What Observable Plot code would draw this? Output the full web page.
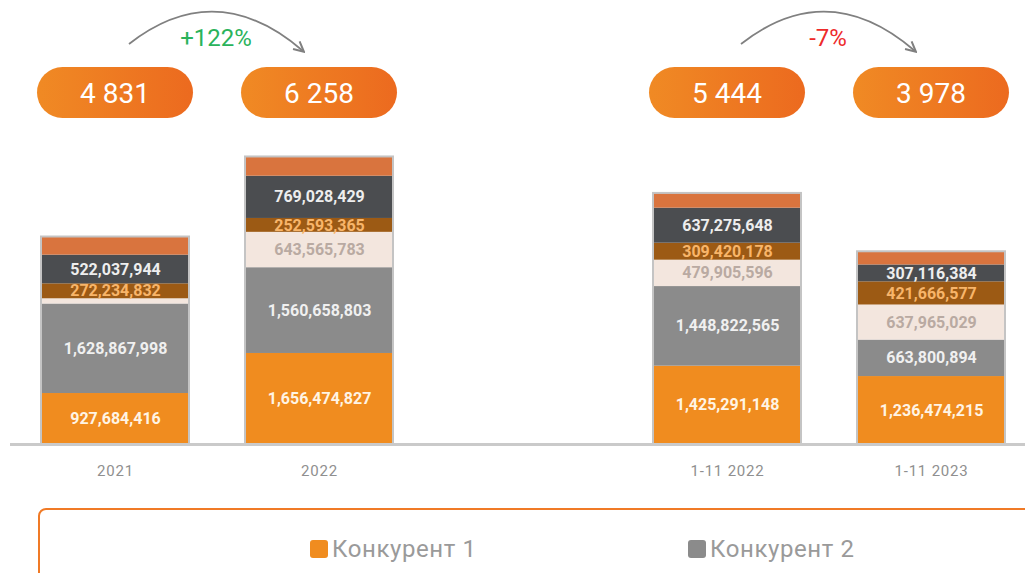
<!DOCTYPE html>
<html><head><meta charset="utf-8">
<script src="https://cdn.jsdelivr.net/npm/d3@7"></script>
<script src="https://cdn.jsdelivr.net/npm/@observablehq/plot@0.6"></script>
<style>
body{margin:0;background:#fff;font-family:Roboto,sans-serif;}
#wrap{position:relative;width:1025px;height:573px;overflow:hidden;}
#wrap svg{overflow:visible;}
.legend{position:absolute;left:38px;top:508px;width:1010px;height:90px;border:2px solid #f07a26;border-radius:8px;box-sizing:border-box;}
.item{position:absolute;top:25px;display:flex;align-items:center;font-size:24px;color:#9a9a9a;letter-spacing:0.6px;}
.sw{width:18px;height:18px;border-radius:3px;margin-right:4px;}
g[aria-label="seglabels"] text{letter-spacing:2px;}
g[aria-label="x-axis tick label"] text, g[aria-label="x-axis"] text{letter-spacing:0.8px;}
</style></head><body><div id="wrap"></div>
<script>
const categories = ["2021", "2022", "gap", "1-11 2022", "1-11 2023"];
const tickLabels = ["2021", "2022", "", "1-11 2022", "1-11 2023"];
const seriesNames = ["Конкурент 1", "Конкурент 2", "Конкурент 3", "Конкурент 4", "Конкурент 5", "Конкурент 6"];
const seriesColors = ["#f08c1f", "#8b8b8b", "#f3e6de", "#9c5a14", "#4b4d50", "#d9743e"];
const labelColors = ["#fff4e4", "#f0f0f0", "#b9aaa2", "#f8b56a", "#eeeeee", null];
const konk1 = [927684416, 1656474827, null, 1425291148, 1236474215];
const konk2 = [1628867998, 1560658803, null, 1448822565, 663800894];
const konk3 = [95000000, 643565783, null, 479905596, 637965029];
const konk4 = [272234832, 252593365, null, 309420178, 421666577];
const konk5 = [522037944, 769028429, null, 637275648, 307116384];
const konk6 = [330000000, 350000000, null, 268000000, 240000000];
const badgeValues = ["4 831", "6 258", "", "5 444", "3 978"];
const changes = [
  {from: "2021", to: "2022", text: "+122%", color: "#2ab35b"},
  {from: "1-11 2022", to: "1-11 2023", text: "-7%", color: "#ee2a2a"}
];

const seriesValues = [konk1, konk2, konk3, konk4, konk5, konk6];
const rows = [];
categories.forEach((cat, ci) => {
  let acc = 0;
  seriesValues.forEach((vals, si) => {
    const v = vals[ci];
    if (v == null) return;
    rows.push({cat, series: seriesNames[si], si, value: v, y1: acc, y2: acc + v,
      label: d3.format(",")(v)});
    acc += v;
  });
});
const totals = categories.map((cat, ci) => ({cat, total: d3.sum(seriesValues, s => s[ci] || 0)})).filter(d => d.total > 0);

const labelMarks = seriesNames.map((name, si) => labelColors[si] ? Plot.text(
  rows.filter(r => r.si === si && r.value > 150e6),
  {x: "cat", y: r => (r.y1 + r.y2) / 2, text: "label", fill: labelColors[si],
   fontSize: 16, fontWeight: "bold", ariaLabel: "seglabels"}) : null).filter(Boolean);

const plot = Plot.plot({
  width: 1025, height: 500,
  marginTop: 150, marginBottom: 56, marginLeft: 10, marginRight: 0,
  style: {fontFamily: "Roboto, sans-serif", fontSize: "15px", color: "#8f8f8f", background: "transparent"},
  x: {domain: categories, range: [40, 1005], paddingInner: 0.275, paddingOuter: 0,
      tickFormat: d => tickLabels[categories.indexOf(d)], tickSize: 0, tickPadding: 21, label: null},
  y: {domain: [0, 5.35e9], axis: null},
  color: {domain: seriesNames, range: seriesColors},
  marks: [
    Plot.barY(rows, {x: "cat", y1: "y1", y2: "y2", fill: "series"}),
    Plot.barY(totals, {x: "cat", y: "total", fill: "none", stroke: "#c4c4c4", strokeWidth: 2}),
    ...labelMarks,
    Plot.ruleY([0], {stroke: "#cacaca", strokeWidth: 3})
  ]
});

document.getElementById("wrap").appendChild(plot);

// annotations positioned with the plot's x scale
const xs = plot.scale("x");
const bw = xs.bandwidth;
const cx = c => xs.apply(c) + bw / 2;
const svg = d3.select(plot);
const defs = svg.append("defs");
const grad = defs.append("linearGradient").attr("id", "pillGrad").attr("x1", "0").attr("x2", "1");
grad.append("stop").attr("offset", "0").attr("stop-color", "#f08a24");
grad.append("stop").attr("offset", "1").attr("stop-color", "#ec6a1f");
defs.append("marker").attr("id", "arrowHead").attr("viewBox", "0 0 10 10")
  .attr("refX", 8).attr("refY", 5).attr("markerWidth", 7).attr("markerHeight", 7)
  .attr("orient", "auto")
  .append("path").attr("d", "M1,1 L9,5 L1,9").attr("fill", "none")
  .attr("stroke", "#808080").attr("stroke-width", 1.6);

const ann = svg.append("g");
categories.forEach((cat, i) => {
  if (!badgeValues[i]) return;
  const c = cx(cat);
  ann.append("rect").attr("x", c - 78).attr("y", 67).attr("width", 156).attr("height", 51)
    .attr("rx", 25.5).attr("fill", "url(#pillGrad)");
  ann.append("text").attr("x", c).attr("y", 93).attr("text-anchor", "middle")
    .attr("dominant-baseline", "central").attr("fill", "#fff")
    .attr("font-family", "Roboto, sans-serif").attr("font-size", 28).text(badgeValues[i]);
});
changes.forEach(ch => {
  const s = cx(ch.from) + 14, e = cx(ch.to) - 16;
  const m = (s + e) / 2;
  ann.append("path").attr("d", `M${s},44 Q${m},-24 ${e},51`).attr("fill", "none")
    .attr("stroke", "#808080").attr("stroke-width", 1.8).attr("marker-end", "url(#arrowHead)");
  ann.append("text").attr("x", m).attr("y", 46).attr("text-anchor", "middle")
    .attr("fill", ch.color).attr("font-family", "Roboto, sans-serif").attr("font-size", 24).text(ch.text);
});

// legend
const leg = d3.select("#wrap").append("div").attr("class", "legend");
const legPos = [270, 648];
seriesNames.slice(0, 2).forEach((n, i) => {
  const it = leg.append("div").attr("class", "item").style("left", legPos[i] + "px");
  it.append("div").attr("class", "sw").style("background", seriesColors[i]);
  it.append("span").text(n);
});
</script></body></html>
